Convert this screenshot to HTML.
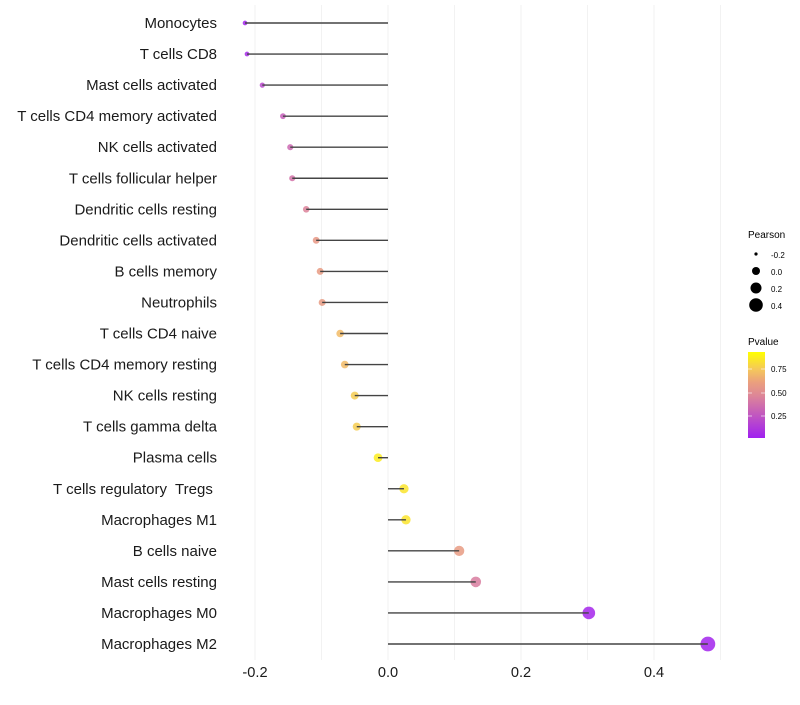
<!DOCTYPE html>
<html><head><meta charset="utf-8"><style>
body{margin:0;background:#fff;font-family:"Liberation Sans",sans-serif;}
</style></head><body>
<svg id="chart" width="800" height="700" xmlns="http://www.w3.org/2000/svg" font-family="Liberation Sans, sans-serif">
<defs>
<linearGradient id="pgrad" x1="0" y1="1" x2="0" y2="0">
<stop offset="0" stop-color="rgb(160,32,240)"/><stop offset="0.5" stop-color="rgb(222,135,150)"/><stop offset="0.65" stop-color="rgb(235,160,125)"/><stop offset="0.8" stop-color="rgb(245,200,90)"/><stop offset="1" stop-color="rgb(255,255,0)"/>
</linearGradient>
</defs>
<g id="grid"></g><g id="marks"></g><g id="labels"></g>
<g>
<text x="748" y="238" font-size="10">Pearson</text>
<circle cx="756" cy="254" r="1.6" fill="#000"/><text x="771" y="258" font-size="8">-0.2</text>
<circle cx="756" cy="271" r="4" fill="#000"/><text x="771" y="275" font-size="8">0.0</text>
<circle cx="756" cy="288" r="5.5" fill="#000"/><text x="771" y="292" font-size="8">0.2</text>
<circle cx="756" cy="305" r="6.8" fill="#000"/><text x="771" y="309" font-size="8">0.4</text>
</g>
<g>
<text x="748" y="345" font-size="10">Pvalue</text>
<rect x="748" y="352" width="17" height="86" fill="url(#pgrad)"/>
<line x1="748" y1="369" x2="752" y2="369" stroke="#fff" opacity="0.6"/><line x1="761" y1="369" x2="765" y2="369" stroke="#fff" opacity="0.6"/>
<line x1="748" y1="393" x2="752" y2="393" stroke="#fff" opacity="0.6"/><line x1="761" y1="393" x2="765" y2="393" stroke="#fff" opacity="0.6"/>
<line x1="748" y1="416" x2="752" y2="416" stroke="#fff" opacity="0.6"/><line x1="761" y1="416" x2="765" y2="416" stroke="#fff" opacity="0.6"/>
<text x="771" y="372" font-size="8">0.75</text>
<text x="771" y="396" font-size="8">0.50</text>
<text x="771" y="419" font-size="8">0.25</text>
</g>
</svg>
<script>
const categories=["Monocytes","T cells CD8","Mast cells activated","T cells CD4 memory activated","NK cells activated","T cells follicular helper","Dendritic cells resting","Dendritic cells activated","B cells memory","Neutrophils","T cells CD4 naive","T cells CD4 memory resting","NK cells resting","T cells gamma delta","Plasma cells","T cells regulatory  Tregs ","Macrophages M1","B cells naive","Mast cells resting","Macrophages M0","Macrophages M2"];
const pearson=[-0.215,-0.212,-0.189,-0.158,-0.147,-0.144,-0.123,-0.108,-0.102,-0.099,-0.072,-0.065,-0.050,-0.047,-0.015,0.024,0.027,0.107,0.132,0.302,0.481];
const pvalues=[0.02,0.05,0.2,0.3,0.35,0.4,0.48,0.6,0.62,0.62,0.75,0.75,0.82,0.82,0.93,0.9,0.9,0.62,0.45,0.03,0.02];
const xTicks=[-0.2,0.0,0.2,0.4];
const xTickLabels=["-0.2","0.0","0.2","0.4"];
const NS="http://www.w3.org/2000/svg";
const x=v=>388+v*665;
const y=i=>23+i*31.05;
const rad=v=>v<0?Math.max(2,4.5+10*v):4.5+6*v;
const stops=[[0,[160,32,240]],[0.5,[222,135,150]],[0.65,[235,160,125]],[0.8,[245,200,90]],[1,[255,255,0]]];
function col(p){const t=Math.max(0,Math.min(1,p));
 for(let k=1;k<stops.length;k++){if(t<=stops[k][0]){const a=stops[k-1],b=stops[k];const u=(t-a[0])/(b[0]-a[0]);
 return `rgb(${a[1].map((v,j)=>Math.round(v+(b[1][j]-v)*u)).join(',')})`;}}
 return 'rgb(255,255,0)';}
function mk(tag,attrs,parent){const e=document.createElementNS(NS,tag);for(const k in attrs)e.setAttribute(k,attrs[k]);parent.appendChild(e);return e;}
const grid=document.getElementById('grid'),marks=document.getElementById('marks'),labels=document.getElementById('labels');
[-0.2,-0.1,0,0.1,0.2,0.3,0.4,0.5].forEach(v=>{const xx=x(v);
 const l=mk('line',{x1:xx,x2:xx,y1:5,y2:660,stroke:'#f2f2f2','stroke-width':1},grid);
 
 });
categories.forEach((c,i)=>{
 const t=mk('text',{x:217,y:y(i)+5,'font-size':15,'text-anchor':'end',fill:'#1a1a1a',style:'white-space:pre'},labels);t.textContent=c;
 
 
 const p=mk('circle',{cx:x(pearson[i]),cy:y(i),r:rad(pearson[i]),fill:col(pvalues[i]),'fill-opacity':0.85},marks);
 
 
 const s=mk('line',{x1:x(0),x2:x(pearson[i]),y1:y(i),y2:y(i),stroke:'#444','stroke-width':1.4},marks);
 
 
});
xTicks.forEach((v,i)=>{const t=mk('text',{x:x(v),y:677,'font-size':14.6,'text-anchor':'middle',fill:'#1a1a1a'},labels);t.textContent=xTickLabels[i];
 
 });
</script>
</body></html>
